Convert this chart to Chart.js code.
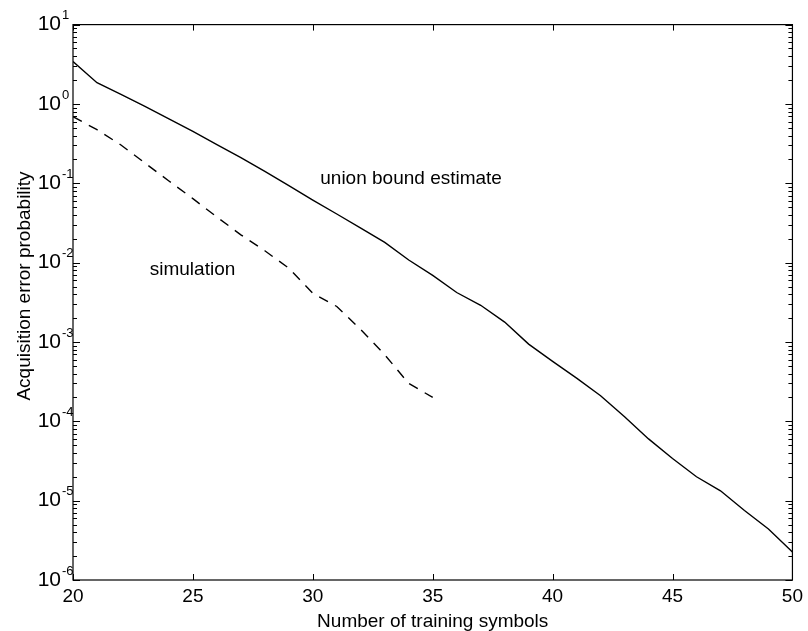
<!DOCTYPE html>
<html>
<head>
<meta charset="utf-8">
<script src="https://cdn.jsdelivr.net/npm/chart.js@4/dist/chart.umd.min.js"></script>
<style>
  html, body { margin: 0; padding: 0; background: #fff; }
  #wrap { width: 808px; height: 631px; }
</style>
</head>
<body>
<div id="wrap"><canvas id="c" width="808" height="631"></canvas></div>
<script>
// Number of training symbols (x positions of both curves)
const trainingSymbols = [20, 21, 22, 23, 24, 25, 26, 27, 28, 29, 30,
                         31, 32, 33, 34, 35, 36, 37, 38, 39, 40,
                         41, 42, 43, 44, 45, 46, 47, 48, 49, 50];

// Union bound estimate of the acquisition error probability
const unionBound = [3.42, 1.85, 1.32, 0.93, 0.65, 0.45, 0.307, 0.211, 0.141, 0.0935, 0.0613,
                    0.041, 0.0272, 0.018, 0.0108, 0.0069, 0.0042, 0.0029, 0.00178, 0.00094, 0.00057,
                    0.00035, 0.00021, 0.000114, 6.0e-5, 3.4e-5, 2.0e-5, 1.33e-5, 7.5e-6, 4.4e-6, 2.25e-6];

// Simulated acquisition error probability (20 .. 35 training symbols)
const simulation = [0.69, 0.474, 0.304, 0.18, 0.107, 0.064, 0.0376, 0.0224, 0.0141, 0.0085, 0.0041,
                    0.0028, 0.00143, 0.00069, 0.0003, 0.0002];

// Axis ticks
const xTicks = [20, 25, 30, 35, 40, 45, 50];
const yExponents = [-6, -5, -4, -3, -2, -1, 0, 1];

// Axis titles
const xTitle = 'Number of training symbols';
const yTitle = 'Acquisition error probability';

// In-plot curve labels (data coordinates)
const curveLabels = [
  { text: 'union bound estimate', x: 30.31, y: 0.1155 },
  { text: 'simulation', x: 23.2, y: 0.00818 }
];

const FONT = 'Liberation Sans, Arial, Helvetica, sans-serif';

const toPoints = (xs, ys) => ys.map((v, i) => ({ x: xs[i], y: v }));

// Box frame, inward tick marks, superscript exponents, y title and curve labels
const axesDecor = {
  id: 'axesDecor',
  afterDraw(chart) {
    const { ctx, chartArea: a, scales: { x, y } } = chart;
    ctx.save();
    ctx.strokeStyle = '#000';
    ctx.lineWidth = 1.2;
    ctx.strokeRect(a.left, a.top, a.right - a.left, a.bottom - a.top);

    ctx.lineWidth = 1;
    ctx.beginPath();
    // x major ticks, top and bottom
    xTicks.forEach(v => {
      const px = Math.round(x.getPixelForValue(v)) + 0.5;
      ctx.moveTo(px, a.bottom); ctx.lineTo(px, a.bottom - 6);
      ctx.moveTo(px, a.top); ctx.lineTo(px, a.top + 6);
    });
    // y decade and minor ticks, left and right
    yExponents.forEach(e => {
      const base = Math.pow(10, e);
      const py = Math.round(y.getPixelForValue(base)) + 0.5;
      ctx.moveTo(a.left, py); ctx.lineTo(a.left + 7, py);
      ctx.moveTo(a.right, py); ctx.lineTo(a.right - 7, py);
      if (e < 1) {
        for (let k = 2; k <= 9; k++) {
          const pm = Math.round(y.getPixelForValue(k * base)) + 0.5;
          ctx.moveTo(a.left, pm); ctx.lineTo(a.left + 4, pm);
          ctx.moveTo(a.right, pm); ctx.lineTo(a.right - 4, pm);
        }
      }
    });
    ctx.stroke();

    // exponents of the "10" tick labels
    ctx.fillStyle = '#000';
    ctx.font = '13px ' + FONT;
    ctx.textAlign = 'left';
    ctx.textBaseline = 'middle';
    yExponents.forEach(e => {
      const py = y.getPixelForValue(Math.pow(10, e));
      ctx.fillText(e < 0 ? '-' + (-e) : String(e), 62, py - 9);
    });

    // curve labels
    ctx.font = '19px ' + FONT;
    curveLabels.forEach(l => {
      ctx.fillText(l.text, x.getPixelForValue(l.x), y.getPixelForValue(l.y));
    });

    // y axis title, rotated
    ctx.translate(25, 286);
    ctx.rotate(-Math.PI / 2);
    ctx.textAlign = 'center';
    ctx.fillText(yTitle, 0, 0);
    ctx.restore();
  }
};

new Chart(document.getElementById('c'), {
  type: 'line',
  data: {
    datasets: [
      {
        label: 'union bound estimate',
        data: toPoints(trainingSymbols, unionBound),
        borderColor: '#000',
        borderWidth: 1.4,
        pointRadius: 0,
        tension: 0,
        fill: false
      },
      {
        label: 'simulation',
        data: toPoints(trainingSymbols, simulation),
        borderColor: '#000',
        borderWidth: 1.4,
        borderDash: [10, 8],
        pointRadius: 0,
        tension: 0,
        fill: false
      }
    ]
  },
  options: {
    responsive: false,
    animation: false,
    layout: { padding: { left: 0, top: 20, right: 11, bottom: 0 } },
    plugins: { legend: { display: false }, tooltip: { enabled: false } },
    scales: {
      x: {
        type: 'linear',
        min: 20,
        max: 50,
        afterBuildTicks(s) { s.ticks = xTicks.map(v => ({ value: v })); },
        ticks: { color: '#000', padding: 5, maxRotation: 0, autoSkip: false,
                 font: { family: FONT, size: 19 } },
        grid: { display: false, drawTicks: false },
        border: { display: false },
        title: { display: true, text: xTitle, color: '#000',
                 padding: { top: 0, bottom: 0 },
                 font: { family: FONT, size: 19, lineHeight: 1 } },
        afterFit(s) { s.height = 51; }
      },
      y: {
        type: 'logarithmic',
        min: 1e-6,
        max: 10,
        afterBuildTicks(s) { s.ticks = yExponents.map(e => ({ value: Math.pow(10, e) })); },
        ticks: { color: '#000', padding: 12, autoSkip: false,
                 font: { family: FONT, size: 21 },
                 callback: () => '10' },
        grid: { display: false, drawTicks: false },
        border: { display: false },
        afterFit(s) { s.width = 73; }
      }
    }
  },
  plugins: [axesDecor]
});
</script>
</body>
</html>
